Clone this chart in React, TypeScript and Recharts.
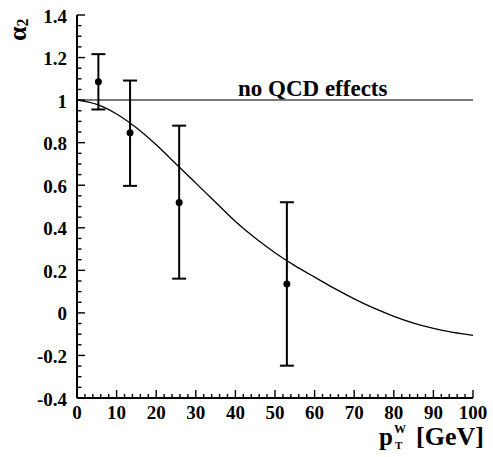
import React from "react";
import {
  ComposedChart,
  XAxis,
  YAxis,
  Line,
  Scatter,
  ErrorBar,
  ReferenceLine,
} from "recharts";

// Measured points (pT^W [GeV], alpha_2) with error bar ends
const pointX = [5.4, 13.4, 25.8, 53.0];
const pointY = [1.086, 0.847, 0.519, 0.136];
const pointHigh = [1.216, 1.092, 0.88, 0.52];
const pointLow = [0.956, 0.597, 0.161, -0.248];

// Theory curve
const curveX = [0, 5, 10, 15, 20, 25, 30, 35, 40, 45, 50, 55, 60, 65, 70, 75, 80, 85, 90, 95, 100];
const curveY = [1.0, 0.98, 0.935, 0.87, 0.79, 0.7, 0.61, 0.52, 0.43, 0.352, 0.283, 0.222, 0.168, 0.115, 0.066, 0.022, -0.016, -0.048, -0.073, -0.092, -0.106];

// Tick labels
const xMajor = [0, 10, 20, 30, 40, 50, 60, 70, 80, 90, 100];
const xMajorLabels = ["0", "10", "20", "30", "40", "50", "60", "70", "80", "90", "100"];
const yMajor = [-0.4, -0.2, 0, 0.2, 0.4, 0.6, 0.8, 1, 1.2, 1.4];
const yMajorLabels = ["-0.4", "-0.2", "0", "0.2", "0.4", "0.6", "0.8", "1", "1.2", "1.4"];

const xTicks: number[] = [];
for (let i = 0; i <= 50; i++) xTicks.push(i * 2);
const yTicks: number[] = [];
for (let i = 0; i <= 36; i++) yTicks.push(Math.round((-0.4 + i * 0.05) * 1000) / 1000);

const pointData = pointX.map((x, i) => ({
  x,
  y: pointY[i],
  err: [pointY[i] - pointLow[i], pointHigh[i] - pointY[i]],
}));
const curveData = curveX.map((x, i) => ({ x, c: curveY[i] }));

const FONT = "Liberation Serif, Tinos, Times New Roman, serif";
const INK = "#000";
const TXT: React.CSSProperties = { fontFamily: FONT, fontWeight: 700 };

function findMajor(list: number[], v: number) {
  return list.findIndex((m) => Math.abs(m - v) < 1e-6);
}

const YTick = (props: any) => {
  const { x, y, payload } = props;
  const idx = findMajor(yMajor, payload.value);
  const major = idx >= 0;
  return (
    <g>
      <line x1={x} x2={x + (major ? 8 : 4.5)} y1={y} y2={y} stroke={INK} strokeWidth={1.4} />
      {major && (
        <text x={x - 10} y={y + 7.5} textAnchor="end" style={TXT} fontSize={19} fill={INK}>
          {yMajorLabels[idx]}
        </text>
      )}
    </g>
  );
};

const XTick = (props: any) => {
  const { x, y, payload } = props;
  const idx = findMajor(xMajor, payload.value);
  const major = idx >= 0;
  return (
    <g>
      <line x1={x} x2={x} y1={y} y2={y - (major ? 8 : 4)} stroke={INK} strokeWidth={1.4} />
      {major && (
        <text x={x} y={y + 21} textAnchor="middle" style={TXT} fontSize={19} fill={INK}>
          {xMajorLabels[idx]}
        </text>
      )}
    </g>
  );
};

const XTitle = () => (
  <g fill={INK}>
    <text x={379} y={445} style={TXT} fontSize={25}>p</text>
    <text x={394} y={433} style={TXT} fontSize={12}>W</text>
    <text x={395} y={449} style={TXT} fontSize={11}>T</text>
    <text x={416} y={445} style={TXT} fontSize={26}>[GeV]</text>
  </g>
);

const YTitle = () => (
  <g fill={INK}>
    <text transform="rotate(-90)" x={-41} y={26} style={TXT} fontSize={26}>
      α<tspan fontSize={16} dy={2}>2</tspan>
    </text>
  </g>
);

const RefLabel = (props: any) => {
  const vb = props.viewBox || { x: 77, y: 100 };
  return (
    <text x={vb.x + 161} y={vb.y - 4} style={TXT} fontSize={23} fill={INK}>
      no QCD effects
    </text>
  );
};

const Dot = (props: any) => <circle cx={props.cx} cy={props.cy} r={3.5} fill={INK} />;

export default function App() {
  return (
    <div style={{ position: "absolute", left: 0, top: 0, width: 493, height: 457, background: "#fff" }}>
      <ComposedChart width={493} height={457} margin={{ top: 15, right: 20, bottom: 0, left: 0 }}>
        <XAxis
          xAxisId="b"
          dataKey="x"
          type="number"
          domain={[0, 100]}
          ticks={xTicks}
          interval={0}
          tick={<XTick />}
          tickSize={0}
          tickMargin={0}
          tickLine={false}
          axisLine={{ stroke: INK, strokeWidth: 2 }}
          height={59}
          allowDataOverflow
          label={<XTitle />}
        />
        <XAxis
          xAxisId="t"
          orientation="top"
          type="number"
          domain={[0, 100]}
          tick={false}
          tickLine={false}
          axisLine={{ stroke: INK, strokeWidth: 2 }}
          height={0}
        />
        <YAxis
          yAxisId="l"
          type="number"
          domain={[-0.4, 1.4]}
          ticks={yTicks}
          interval={0}
          tick={<YTick />}
          tickSize={0}
          tickMargin={0}
          tickLine={false}
          axisLine={{ stroke: INK, strokeWidth: 2 }}
          width={77}
          allowDataOverflow
          label={<YTitle />}
        />
        <YAxis
          yAxisId="r"
          orientation="right"
          type="number"
          domain={[-0.4, 1.4]}
          tick={false}
          tickLine={false}
          axisLine={{ stroke: INK, strokeWidth: 2 }}
          width={0}
        />
        <ReferenceLine
          xAxisId="b"
          yAxisId="l"
          y={1}
          stroke="#7a7a7a"
          strokeWidth={2}
          label={<RefLabel />}
        />
        <Line
          xAxisId="b"
          yAxisId="l"
          data={curveData}
          dataKey="c"
          type="monotone"
          stroke={INK}
          strokeWidth={1.3}
          dot={false}
          isAnimationActive={false}
        />
        <Scatter
          xAxisId="b"
          yAxisId="l"
          data={pointData}
          dataKey="y"
          shape={<Dot />}
          isAnimationActive={false}
        >
          <ErrorBar dataKey="err" direction="y" width={7} stroke={INK} strokeWidth={2} isAnimationActive={false} />
        </Scatter>
      </ComposedChart>
    </div>
  );
}
